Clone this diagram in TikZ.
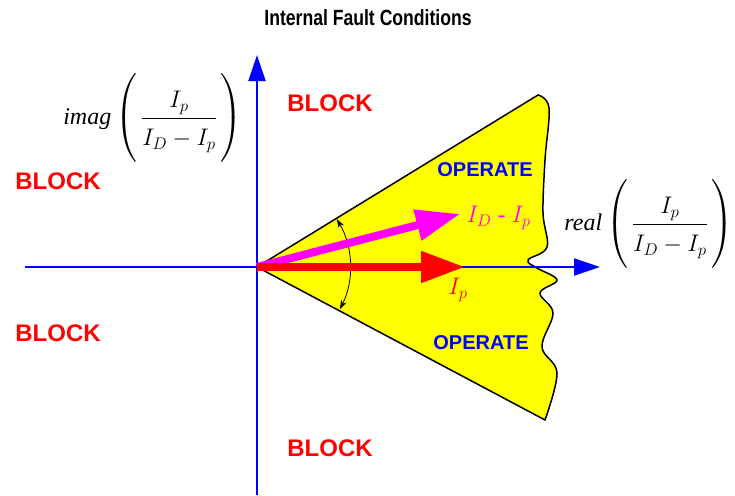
\documentclass[tikz,border=0pt]{standalone}
\usepackage{fix-cm}
\usepackage{exscale}
\usepackage{fontspec}
\setmainfont{Liberation Serif}
\newfontfamily\labelfont{Liberation Sans}
\newfontfamily\titlefont{Liberation Sans}[FakeStretch=0.8]
\usetikzlibrary{arrows.meta}
\definecolor{opyellow}{RGB}{255,255,0}
\definecolor{phmagenta}{RGB}{255,0,255}
\definecolor{phred}{RGB}{255,0,0}
\definecolor{axblue}{RGB}{0,0,255}
\newcommand{\ratio}{\left(\rule[-37pt]{0pt}{86pt}\,\displaystyle\frac{I_p\rule[-3pt]{0pt}{0pt}}{\rule{0pt}{24pt}I_D-I_p}\,\right)}

\begin{document}
\begin{tikzpicture}[x=1pt,y=-1pt,
  block/.style={text=phred, font=\labelfont\bfseries\fontsize{24}{28}\selectfont},
  operate/.style={text=axblue, font=\labelfont\bfseries\fontsize{20}{24}\selectfont},
  axis/.style={axblue, line width=2pt, -{Triangle[length=26pt,width=17pt]}},
  phasor/.style={line width=8pt, -{Triangle[length=44pt,width=30pt]}},
  axlabel/.style={font=\fontsize{24}{28}\selectfont}]
\useasboundingbox (0,0) rectangle (735,495);
\node[font=\titlefont\bfseries\fontsize{22}{26}\selectfont] (title) at (368,18) {Internal Fault Conditions};
% operate region
\coordinate (O) at (257,267);
\filldraw[fill=opyellow, draw=black, line width=1.5pt] (O) -- (538,95)
  -- plot[smooth, tension=0.6] coordinates {(538,95) (549,108) (545,160) (543,213) (547,247) (528,260) (537,268) (557,280) (540,293) (553,313) (542,347) (557,373) (545,420)}
  -- cycle;
% axes
\coordinate (xs) at (25,267);
\coordinate (xe) at (600,267);
\coordinate (ys) at (257,495);
\coordinate (ye) at (257,55);
\draw[axis] (xs) -- (xe);
\draw[axis] (ys) -- (ye);
% angle
\draw[black, line width=0.8pt, {Stealth[length=9pt,width=6pt]}-{Stealth[length=9pt,width=6pt]}] (O) ++(-31:93) arc[start angle=-31, end angle=27, radius=93];
% phasors
\coordinate (ip) at (465,267);
\coordinate (idp) at (460,214);
\draw[phasor, phmagenta] (O) -- (idp);
\draw[phasor, phred] (O) -- (ip);
\node[axlabel, text=phmagenta, anchor=west] (idplab) at (463,218) {$I_D$ - $I_p$};
\node[axlabel, text=phred] (iplab) at (458,290) {$I_p$};
% labels
\node[axlabel, inner sep=0pt] (imag) at (153,118) {\textit{imag}\,$\ratio$};
\node[axlabel, inner sep=0pt] (real) at (649,224) {\textit{real}\,$\ratio$};
\node[block] (b1) at (330,103) {BLOCK};
\node[block] (b2) at (58,181) {BLOCK};
\node[block] (b3) at (58,333) {BLOCK};
\node[block] (b4) at (330,448) {BLOCK};
\node[operate] (op1) at (485,170) {OPERATE};
\node[operate] (op2) at (481,343) {OPERATE};
\end{tikzpicture}
\end{document}
